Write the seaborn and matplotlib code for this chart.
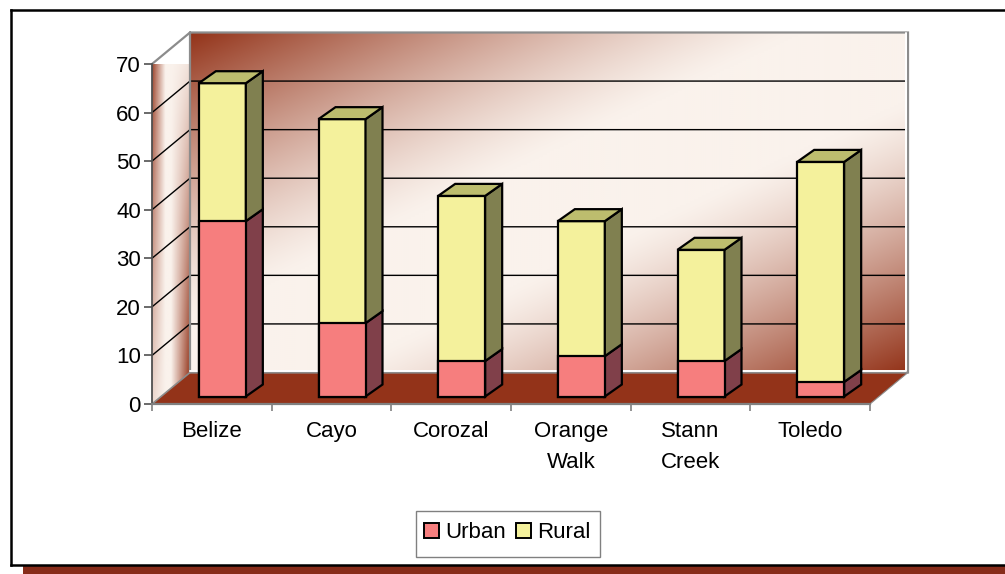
import numpy as np
import matplotlib
matplotlib.use('Agg')
import matplotlib.pyplot as plt
import seaborn as sns
from matplotlib.patches import Patch, Polygon, Rectangle
from matplotlib.transforms import Affine2D

districts = ['Belize', 'Cayo', 'Corozal', 'Orange\nWalk', 'Stann\nCreek', 'Toledo']
urban = [36.1, 15.1, 7.3, 8.3, 7.3, 3.0]
rural = [28.4, 42.0, 34.0, 27.8, 22.9, 45.3]
y_ticks = [0, 10, 20, 30, 40, 50, 60, 70]

W, H = 1005, 574
LEFT, RIGHT, BASE, TOP = 152, 870, 404, 64
PX_X = 6 / (RIGHT - LEFT)   # categories per pixel
PX_Y = 70 / (BASE - TOP)    # values per pixel

DARK = np.array([0x93, 0x33, 0x19]) / 255
LIGHT = np.array([0xFA, 0xF2, 0xEC]) / 255


def blend(t):
    return LIGHT + (DARK - LIGHT) * t[..., None]


def wall_gradient(u, v, c1=0.85, c2=1.2):
    s = u + v
    upper = np.clip((c1 - s) / c1, 0, 1) ** 1.3
    lower = np.clip((s - c2) / (2 - c2), 0, 1) ** 1.3
    return blend(upper + lower)


def side_gradient(u, v):
    t_left = np.clip(1 - u / 0.35, 0, 1) * (1 - 0.85 * v) * 0.9
    t_right = np.clip((u - 0.5) / 0.5, 0, 1) * v * 0.95
    return blend(np.maximum(t_left, t_right))


sns.set_style('white')
plt.rcParams['font.family'] = ['Liberation Sans', 'DejaVu Sans']
plt.rcParams['text.color'] = 'black'

fig = plt.figure(figsize=(W / 100, H / 100), dpi=100)
ax = fig.add_axes([LEFT / W, 1 - BASE / H, (RIGHT - LEFT) / W, (BASE - TOP) / H])
ax.patch.set_alpha(0)

total = [u + r for u, r in zip(urban, rural)]
bar_w = 47 * PX_X
sns.barplot(x=districts, y=total, color='#F4F19C', width=bar_w, saturation=1,
            edgecolor='black', linewidth=1.6, zorder=5, ax=ax)
sns.barplot(x=districts, y=urban, color='#F67E7E', width=bar_w, saturation=1,
            edgecolor='black', linewidth=1.6, zorder=6, ax=ax)

# bars sit part way back on the floor
off_x, off_y = 10.5 * PX_X, 7.5 * PX_Y
for p in ax.patches:
    p.set_transform(Affine2D().translate(off_x, off_y) + ax.transData)
    p.set_joinstyle('miter')

ax.set_xlim(-0.5, 5.5)
ax.set_ylim(0, 70)

# depth of the box and of each bar
dx, dy = 38 * PX_X, 31.5 * PX_Y
bx, by = 17 * PX_X, 12 * PX_Y

# back wall
u, v = np.meshgrid(np.linspace(0, 1, 360), np.linspace(0, 1, 170))
ax.imshow(wall_gradient(u, v), extent=[-0.5 + dx, 5.5 + dx, dy, 70 + dy], aspect='auto',
          zorder=1, clip_on=False, interpolation='bilinear')

# side wall, sheared
u, v = np.meshgrid(np.linspace(0, 1, 60), np.linspace(0, 1, 300))
sv = (v * (70 + dy) - (1 - u) * dy) / 70
side_img = ax.imshow(side_gradient(u, np.clip(sv, 0, 1)),
                     extent=[-0.5, -0.5 + dx, 0, 70 + dy], aspect='auto', zorder=1,
                     interpolation='bilinear')
side_poly = Polygon([(-0.5, 0), (-0.5 + dx, dy), (-0.5 + dx, 70 + dy), (-0.5, 70)],
                    closed=True, transform=ax.transData, fill=False, edgecolor='none',
                    clip_on=False)
ax.add_patch(side_poly)
side_img.set_clip_box(None)
side_img.set_clip_path(side_poly)

# floor
ax.add_patch(Polygon([(-0.5, 0), (-0.5 + dx, dy), (5.5 + dx, dy), (5.5, 0)], closed=True,
                     facecolor='#933319', edgecolor='none', zorder=2, clip_on=False))

# grid lines across side and back wall
for t in y_ticks[1:-1]:
    ax.plot([-0.5, -0.5 + dx, 5.5 + dx], [t, t + dy, t + dy], color='black', lw=1,
            zorder=3, clip_on=False)

# wall edges
ax.plot([-0.5, -0.5 + dx, 5.5 + dx, 5.5 + dx, -0.5 + dx, -0.5 + dx],
        [70, 70 + dy, 70 + dy, dy, dy, 70 + dy], color='#8C8C8C', lw=1.6, zorder=3,
        clip_on=False, solid_joinstyle='miter')
ax.plot([-0.5, -0.5 + dx], [0, dy], color='#8C8C8C', lw=1.2, zorder=3, clip_on=False)
ax.plot([5.5, 5.5 + dx], [0, dy], color='#8C8C8C', lw=0.8, zorder=3, clip_on=False)
ax.plot([-0.5 + dx, 5.5 + dx - 2 * PX_X, 5.5 + dx - 2 * PX_X],
        [dy + 2 * PX_Y, dy + 2 * PX_Y, 70 + dy], color='white', lw=1.4,
        zorder=3, clip_on=False)

# side and top faces of the bars
for i, (ur, tot) in enumerate(zip(urban, total)):
    x1 = i + bar_w / 2 + off_x
    x0 = i - bar_w / 2 + off_x
    for low, high, col in [(0, ur, '#80404A'), (ur, tot, '#808050')]:
        ax.add_patch(Polygon([(x1, low + off_y), (x1 + bx, low + off_y + by),
                              (x1 + bx, high + off_y + by), (x1, high + off_y)], closed=True,
                             facecolor=col, edgecolor='black', lw=1.6, zorder=5,
                             clip_on=False, joinstyle='miter'))
    ax.add_patch(Polygon([(x0, tot + off_y), (x0 + bx, tot + off_y + by),
                          (x1 + bx, tot + off_y + by), (x1, tot + off_y)], closed=True,
                         facecolor='#BDBD6E', edgecolor='black', lw=1.6, zorder=5,
                         clip_on=False, joinstyle='miter'))

# axes
sns.despine(ax=ax, top=True, right=True)
ax.spines['left'].set_color('#505050')
ax.spines['left'].set_linewidth(1.3)
ax.spines['bottom'].set_color('#808080')
ax.spines['bottom'].set_linewidth(1.6)
ax.spines['left'].set_zorder(4)
ax.spines['bottom'].set_zorder(4)

ax.set_yticks(y_ticks)
ax.tick_params(axis='y', labelsize=16, length=5.5, width=1.2, color='#505050', pad=2.5,
               left=True, labelcolor='black')
ax.set_xticks(range(len(districts)))
ax.set_xticklabels(districts, linespacing=1.62, va='top')
ax.set_xticks(np.arange(-0.5, 6), minor=True)
ax.tick_params(axis='x', which='major', length=0, labelsize=16, pad=12, labelcolor='black')
ax.tick_params(axis='x', which='minor', bottom=True, length=5, width=1.2, color='#808080')
ax.set_xlabel('')
ax.set_ylabel('')

# outer frame with shadow
fw, fh = 1 / W, 1 / H
fig.add_artist(Rectangle((23 * fw, 0), 1, 8 * fh, transform=fig.transFigure,
                         facecolor='#872C1A', edgecolor='none', zorder=-1))
for xs, ys in [([11, 11], [10, 565]), ([11, 1005], [10, 10]), ([11, 1005], [565, 565])]:
    fig.add_artist(plt.Line2D([x * fw for x in xs], [1 - y * fh for y in ys], color='black',
                              lw=1.8, solid_capstyle='projecting'))

# legend box
fig.add_artist(Rectangle((416 * fw, 1 - 557 * fh), 184 * fw, 46 * fh, transform=fig.transFigure,
                         facecolor='white', edgecolor='#808080', lw=1, zorder=3))
handles = [Patch(facecolor='#F67E7E', edgecolor='black', lw=1.4, label='Urban'),
           Patch(facecolor='#F4F19C', edgecolor='black', lw=1.4, label='Rural')]
leg = fig.legend(handles=handles, loc='center', bbox_to_anchor=(507 / W, 1 - 533 / H), ncol=2,
                 fontsize=16, frameon=False, handlelength=0.68, handleheight=0.68,
                 handletextpad=0.27, columnspacing=0.45, borderpad=0, borderaxespad=0)
leg.set_zorder(4)

fig.savefig('out.png', dpi=100)
